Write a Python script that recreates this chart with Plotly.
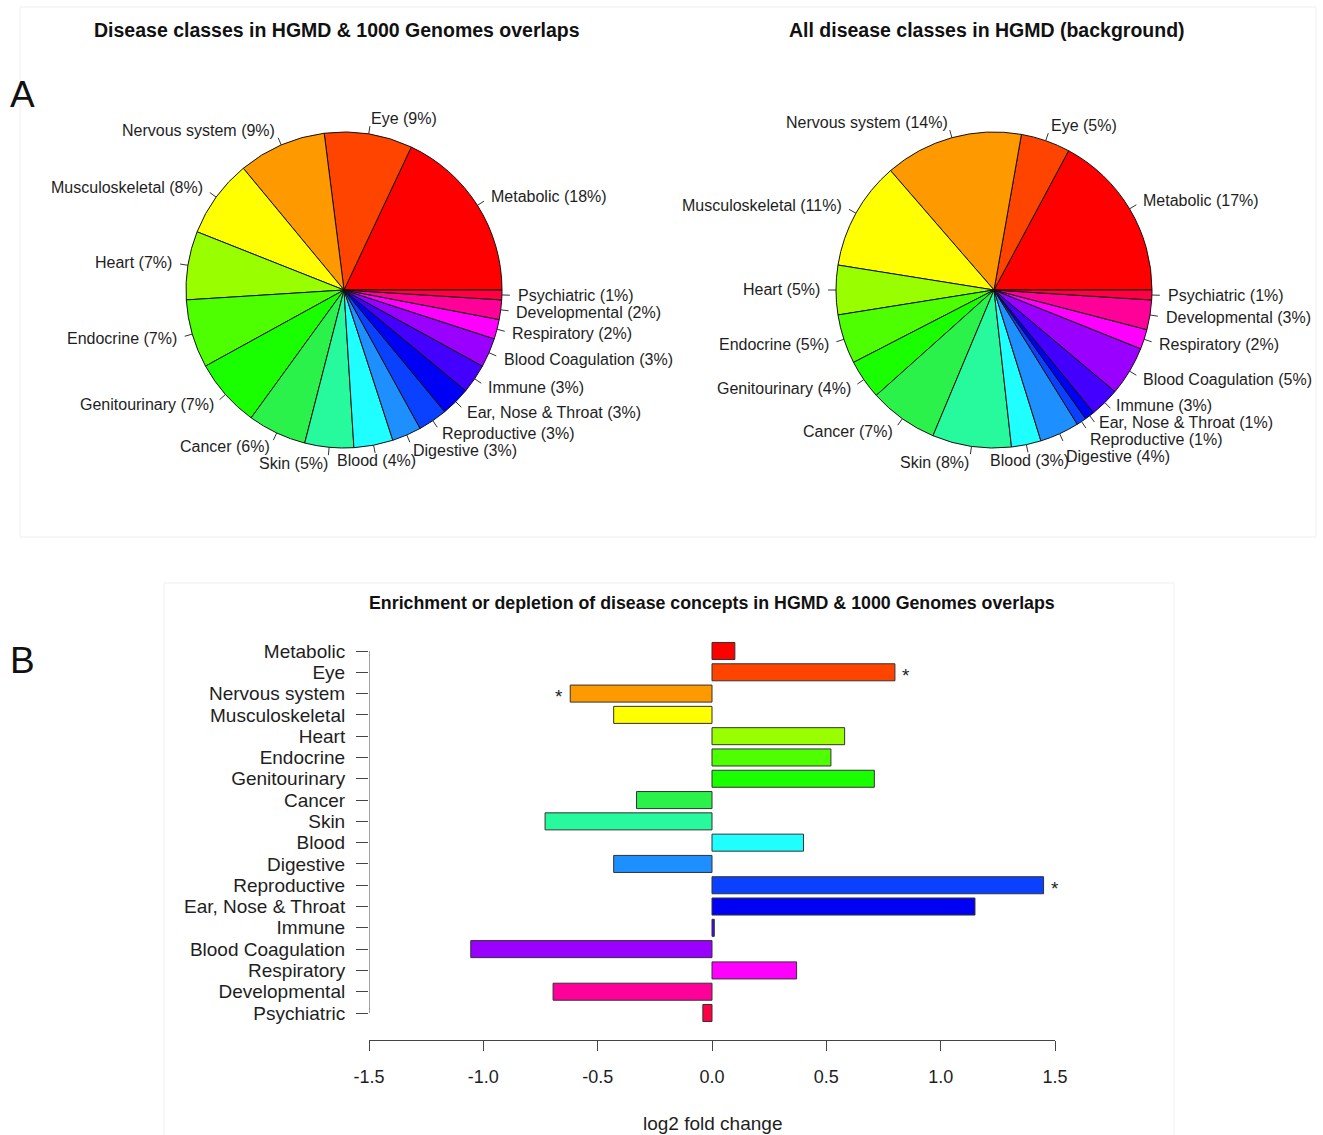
import math
import plotly.graph_objects as go

# ---------------------------------------------------------------------------
# Data
# ---------------------------------------------------------------------------
categories = [
    "Metabolic", "Eye", "Nervous system", "Musculoskeletal", "Heart",
    "Endocrine", "Genitourinary", "Cancer", "Skin", "Blood", "Digestive",
    "Reproductive", "Ear, Nose & Throat", "Immune", "Blood Coagulation",
    "Respiratory", "Developmental", "Psychiatric",
]
# Share of each disease class (%) among HGMD & 1000 Genomes overlaps
overlap_pct = [18, 9, 9, 8, 7, 7, 7, 6, 5, 4, 3, 3, 3, 3, 3, 2, 2, 1]
# Share of each disease class (%) across all of HGMD
background_pct = [17, 5, 14, 11, 5, 5, 4, 7, 8, 3, 4, 1, 1, 3, 5, 2, 3, 1]
# Enrichment (+) / depletion (-) of each class, log2 fold change
log2_fold_change = [0.10, 0.80, -0.62, -0.43, 0.58, 0.52, 0.71, -0.33, -0.73,
                    0.40, -0.43, 1.45, 1.15, 0.01, -1.055, 0.37, -0.695, -0.04]
significant = ["Eye", "Nervous system", "Reproductive"]
x_ticks = [-1.5, -1.0, -0.5, 0.0, 0.5, 1.0, 1.5]

class_colors = [
    "#FF0000", "#FF4400", "#FF9900", "#FFFF00", "#99FF00", "#4DFF00",
    "#1AFF00", "#2BF24B", "#26FA9C", "#1FFFFF", "#1E8FFF", "#0A40FF",
    "#0000F5", "#4400FF", "#9900FF", "#FF00FF", "#FF0099", "#FF0044",
]

# ---------------------------------------------------------------------------
# Page geometry (pixels)
# ---------------------------------------------------------------------------
W, H = 1323, 1135
FONT = "Liberation Sans, Arial, Helvetica, sans-serif"
TEXT = "#1e1e1e"
PIE_R = 158          # pie radius in px
OVERLAY = 1.5        # label overlay axis half-range, in pie radii
LABEL_GAP = 17       # minimum vertical spacing of pie labels, px
pies = [
    dict(values=overlap_pct, cx=344, cy=290,
         title="Disease classes in HGMD & 1000 Genomes overlaps", tx=337),
    dict(values=background_pct, cx=994, cy=290,
         title="All disease classes in HGMD (background)", tx=987),
]


def px_x(x):
    return x / W


def px_y(y):
    return 1 - y / H


def spread(ys, gap):
    """Push sorted label positions apart, keeping each crowded group centred."""
    groups = []  # [sum of original positions, count]
    for y in ys:
        groups.append([y, 1])
        while len(groups) > 1:
            s0, n0 = groups[-2]
            s1, n1 = groups[-1]
            top0 = s0 / n0 - (n0 - 1) * gap / 2
            top1 = s1 / n1 - (n1 - 1) * gap / 2
            if top1 < top0 + n0 * gap:
                groups[-2:] = [[s0 + s1, n0 + n1]]
            else:
                break
    out = []
    for s, n in groups:
        top = s / n - (n - 1) * gap / 2
        out += [top + i * gap for i in range(n)]
    return out


fig = go.Figure()
annotations = []
layout_axes = {}

for k, p in enumerate(pies, start=1):
    cx, cy = p["cx"], p["cy"]
    total = sum(p["values"])
    # First slice runs counter-clockwise from 3 o'clock
    first_deg = 360 * p["values"][0] / total
    fig.add_trace(go.Pie(
        labels=categories, values=p["values"], sort=False,
        direction="counterclockwise", rotation=90 - first_deg,
        marker=dict(colors=class_colors, line=dict(color="#111111", width=1)),
        textinfo="none", hoverinfo="label+percent", showlegend=False,
        domain=dict(x=[px_x(cx - PIE_R), px_x(cx + PIE_R)],
                    y=[px_y(cy + PIE_R), px_y(cy - PIE_R)]),
    ))

    # Overlay axes in units of the pie radius for leader ticks and labels
    xa, ya = f"x{k}", f"y{k}"
    half = PIE_R * OVERLAY
    layout_axes[f"xaxis{k}"] = dict(
        domain=[px_x(cx - half), px_x(cx + half)], range=[-OVERLAY, OVERLAY],
        visible=False, fixedrange=True, anchor=ya, automargin=False)
    layout_axes[f"yaxis{k}"] = dict(
        domain=[px_y(cy + half), px_y(cy - half)], range=[-OVERLAY, OVERLAY],
        visible=False, fixedrange=True, anchor=xa, automargin=False)

    cum = 0.0
    lx, ly = [], []
    labels = []
    for name, v in zip(categories, p["values"]):
        theta = 2 * math.pi * (cum + v / 2) / total
        cum += v
        c, s = math.cos(theta), math.sin(theta)
        lx += [c, 1.05 * c, None]
        ly += [s, 1.05 * s, None]
        if name == "Blood":
            anchor = "center"
        else:
            anchor = "left" if c >= 0 else "right"
        labels.append(dict(text=f"{name} ({v}%)", x=1.1 * c,
                           ypx=cy - 1.1 * s * PIE_R, anchor=anchor))

    # Keep neighbouring labels on the same side from colliding
    for side in ("left", "right"):
        group = sorted([l for l in labels if l["anchor"] == side],
                       key=lambda l: l["ypx"])
        for l, y_new in zip(group, spread([l["ypx"] for l in group],
                                          LABEL_GAP)):
            l["ypx"] = y_new

    for l in labels:
        annotations.append(dict(
            x=l["x"], y=(cy - l["ypx"]) / PIE_R, xref=xa, yref=ya,
            showarrow=False, text=l["text"], xanchor=l["anchor"],
            yanchor="middle", borderpad=0, borderwidth=0,
            font=dict(family=FONT, size=16, color=TEXT)))

    fig.add_trace(go.Scatter(
        x=lx, y=ly, xaxis=xa, yaxis=ya, mode="lines",
        line=dict(color="#333333", width=1), hoverinfo="skip",
        showlegend=False))

    annotations.append(dict(
        x=px_x(p["tx"]), y=px_y(30), xref="paper", yref="paper",
        showarrow=False, text=f"<b>{p['title']}</b>", xanchor="center",
        yanchor="middle", font=dict(family=FONT, size=19.5, color="#111111")))

# ---------------------------------------------------------------------------
# Bar chart of log2 fold change
# ---------------------------------------------------------------------------
idx = list(range(len(categories)))
ROW_TOP, ROW_BOTTOM = 651, 1013          # centres of first / last bar
step = (ROW_BOTTOM - ROW_TOP) / (len(categories) - 1)
AX_TOP, AX_BOTTOM = 630, 1040
X_LEFT, X_RIGHT = 369, 1055
y_lo = (len(categories) - 1) + (AX_BOTTOM - ROW_BOTTOM) / step
y_hi = -(ROW_TOP - AX_TOP) / step

fig.add_trace(go.Bar(
    x=log2_fold_change, y=idx, orientation="h", width=0.8,
    marker=dict(color=class_colors, line=dict(color="#333333", width=1)),
    xaxis="x3", yaxis="y3", showlegend=False,
    customdata=categories, hovertemplate="%{customdata}: %{x}<extra></extra>",
))
# Left axis line spanning the first to the last category
fig.add_trace(go.Scatter(
    x=[x_ticks[0], x_ticks[0]], y=[idx[0], idx[-1]], mode="lines",
    line=dict(color="#444444", width=1), xaxis="x3", yaxis="y3",
    hoverinfo="skip", showlegend=False, cliponaxis=False))

layout_axes["xaxis3"] = dict(
    domain=[px_x(X_LEFT), px_x(X_RIGHT)], range=[x_ticks[0], x_ticks[-1]],
    anchor="y3", showgrid=False, zeroline=False, showline=True,
    linecolor="#444444", linewidth=1, ticks="outside", ticklen=10,
    tickcolor="#444444", tickvals=x_ticks,
    ticktext=[f"{t:.1f}" for t in x_ticks], ticklabelstandoff=10,
    tickfont=dict(family=FONT, size=18, color=TEXT), fixedrange=True,
    automargin=False)
layout_axes["yaxis3"] = dict(
    domain=[px_y(AX_BOTTOM), px_y(AX_TOP)], range=[y_lo, y_hi],
    anchor="x3", showgrid=False, zeroline=False, showline=False,
    ticks="outside", ticklen=12, tickcolor="#444444", tickvals=idx,
    ticktext=categories, ticklabelstandoff=7,
    tickfont=dict(family=FONT, size=19, color=TEXT), fixedrange=True,
    automargin=False)

for name, v in zip(categories, log2_fold_change):
    if name in significant:
        annotations.append(dict(
            x=v, y=categories.index(name), xref="x3", yref="y3",
            showarrow=False, text="*", xanchor="center", yanchor="middle",
            xshift=11 if v > 0 else -11, yshift=-3,
            font=dict(family=FONT, size=19, color=TEXT)))

annotations += [
    dict(x=px_x(712), y=px_y(603), xref="paper", yref="paper",
         showarrow=False, xanchor="center", yanchor="middle",
         text="<b>Enrichment or depletion of disease concepts in HGMD & "
              "1000 Genomes overlaps</b>",
         font=dict(family=FONT, size=17.8, color="#111111")),
    dict(x=px_x(712), y=px_y(1123), xref="paper", yref="paper",
         showarrow=False, xanchor="center", yanchor="middle",
         text="log2 fold change",
         font=dict(family=FONT, size=19, color=TEXT)),
    dict(x=px_x(22), y=px_y(95), xref="paper", yref="paper",
         showarrow=False, xanchor="center", yanchor="middle", text="A",
         font=dict(family=FONT, size=37, color="#111111")),
    dict(x=px_x(22), y=px_y(660), xref="paper", yref="paper",
         showarrow=False, xanchor="center", yanchor="middle", text="B",
         font=dict(family=FONT, size=37, color="#111111")),
]

# Faint frames around the two panels
shapes = [
    dict(type="rect", xref="paper", yref="paper",
         x0=px_x(20), x1=px_x(1316), y0=px_y(537), y1=px_y(7),
         line=dict(color="#EFEFEF", width=1)),
    dict(type="rect", xref="paper", yref="paper",
         x0=px_x(164), x1=px_x(1174), y0=px_y(1136), y1=px_y(583),
         line=dict(color="#EFEFEF", width=1)),
]

fig.update_layout(
    template="none",
    width=W, height=H, autosize=False,
    margin=dict(l=0, r=0, t=0, b=0, pad=0, autoexpand=False),
    paper_bgcolor="white", plot_bgcolor="white",
    font=dict(family=FONT, color=TEXT),
    annotations=annotations, shapes=shapes,
    bargap=0.2, showlegend=False,
    **layout_axes,
)

fig.write_html("out.html")
